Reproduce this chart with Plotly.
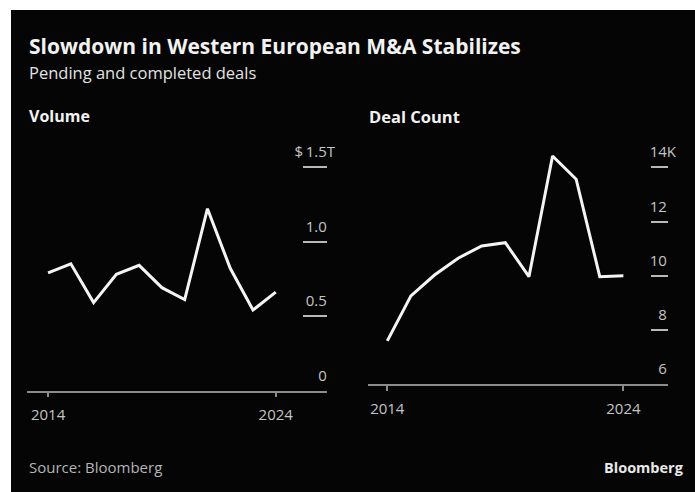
import plotly.graph_objects as go

W, H = 695, 492

years = list(range(2014, 2025))
volume_tn = [0.79, 0.85, 0.59, 0.78, 0.84, 0.69, 0.61, 1.22, 0.82, 0.54, 0.66]
deal_count_k = [7.6, 9.26, 10.03, 10.65, 11.1, 11.22, 9.97, 14.42, 13.56, 9.97, 10.0]

vol_ticks = [0, 0.5, 1.0, 1.5]
vol_ticktext = ["0", "0.5", "1.0", "$\u20091.5"]
vol_unit = "T"
cnt_ticks = [6, 8, 10, 12, 14]
cnt_ticktext = ["6", "8", "10", "12", "14"]
cnt_unit = "K"
x_ticks = [2014, 2024]

FONT = "Open Sans"

def px(x):
    return x / W

def py(y):
    return 1 - y / H

def with_unit(labels, unit):
    hidden = "<span style='color:rgba(0,0,0,0)'>%s</span>" % unit
    return [lab + unit if i == len(labels) - 1 else lab + hidden for i, lab in enumerate(labels)]

fig = go.Figure()
fig.add_trace(go.Scatter(x=years, y=volume_tn, mode="lines",
                         line=dict(color="#f4f4f4", width=3), xaxis="x", yaxis="y",
                         hoverinfo="skip"))
fig.add_trace(go.Scatter(x=years, y=deal_count_k, mode="lines",
                         line=dict(color="#f4f4f4", width=3), xaxis="x2", yaxis="y2",
                         hoverinfo="skip"))

xcommon = dict(showgrid=False, zeroline=False, showline=True, linecolor="#8c8c8c", linewidth=1.5,
               ticks="outside", ticklen=5, tickcolor="#8c8c8c", tickwidth=1.5,
               tickvals=x_ticks, ticktext=[str(v) for v in x_ticks], ticklabelstandoff=5,
               tickfont=dict(family=FONT, size=15, color="#c4c4c4"), fixedrange=True)
ycommon = dict(showgrid=False, zeroline=False, showline=False, side="right",
               ticks="inside", tickcolor="#b8b8b8", tickwidth=1.5,
               ticklabelposition="inside top", ticklabelstandoff=-11, ticklabelshift=-4,
               tickfont=dict(family=FONT, size=15, color="#c4c4c4"), fixedrange=True)

TOP = 128

fig.update_layout(
    width=W, height=H,
    margin=dict(l=0, r=0, t=0, b=0),
    paper_bgcolor="#ffffff",
    plot_bgcolor="rgba(0,0,0,0)",
    showlegend=False,
    xaxis=dict(domain=[px(27), px(327)], range=[2013.075, 2026.25], anchor="y", **xcommon),
    yaxis=dict(domain=[py(390.5), py(TOP)], range=[0, (390.5 - TOP) / 149.0], anchor="x",
               tickvals=vol_ticks, ticktext=with_unit(vol_ticktext, vol_unit), ticklen=24, **ycommon),
    xaxis2=dict(domain=[px(367.7), px(668)], range=[2013.17, 2025.89], anchor="y2", **xcommon),
    yaxis2=dict(domain=[py(384.3), py(TOP)], range=[6, 6 + (384.3 - TOP) / 27.12], anchor="x2",
                tickvals=cnt_ticks, ticktext=with_unit(cnt_ticktext, cnt_unit), ticklen=17, **ycommon),
    shapes=[dict(type="rect", xref="paper", yref="paper", x0=px(11), x1=1, y0=0, y1=py(10),
                 fillcolor="#050505", line=dict(width=0), layer="below")],
    annotations=[
        dict(text="<b>Slowdown in Western European M&A Stabilizes</b>", x=px(27), y=py(46.5),
             xref="paper", yref="paper", xanchor="left", yanchor="middle", showarrow=False,
             font=dict(family=FONT, size=21, color="#f2f2f2")),
        dict(text="Pending and completed deals", x=px(27), y=py(72.5),
             xref="paper", yref="paper", xanchor="left", yanchor="middle", showarrow=False,
             font=dict(family=FONT, size=16.5, color="#e2e2e2")),
        dict(text="<b>Volume</b>", x=px(27), y=py(116),
             xref="paper", yref="paper", xanchor="left", yanchor="middle", showarrow=False,
             font=dict(family=FONT, size=16, color="#f2f2f2")),
        dict(text="<b>Deal Count</b>", x=px(367), y=py(116),
             xref="paper", yref="paper", xanchor="left", yanchor="middle", showarrow=False,
             font=dict(family=FONT, size=16.5, color="#f2f2f2")),
        dict(text="Source: Bloomberg", x=px(27), y=py(467),
             xref="paper", yref="paper", xanchor="left", yanchor="middle", showarrow=False,
             font=dict(family=FONT, size=15, color="#b4b4b4")),
        dict(text="<b>Bloomberg</b>", x=px(686), y=py(467),
             xref="paper", yref="paper", xanchor="right", yanchor="middle", showarrow=False,
             font=dict(family=FONT, size=14.5, color="#e8e8e8")),
    ],
)

fig.write_html("out.html", config={"displayModeBar": False})
